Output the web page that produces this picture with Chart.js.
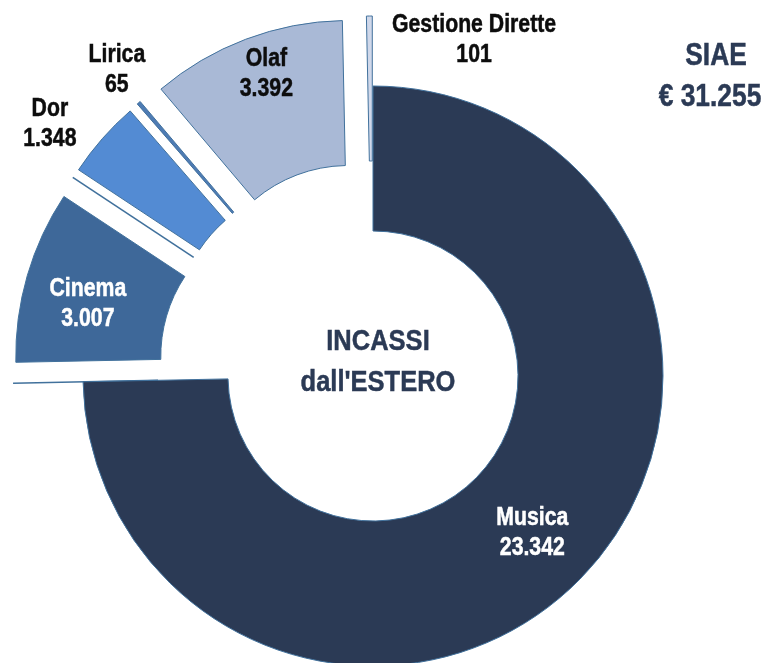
<!DOCTYPE html>
<html><head><meta charset="utf-8">
<script src="https://cdn.jsdelivr.net/npm/chart.js@4/dist/chart.umd.min.js"></script>
<style>html,body{margin:0;padding:0;background:#fff}#wrap{width:767px;height:663px}</style>
</head><body><div id="wrap"><canvas id="c" width="767" height="663"></canvas></div>
<script>
// ---- data ----
const categories = ['Musica', '', 'Cinema', '', 'Dor', 'Lirica', 'Olaf', 'Gestione Dirette'];
const values = [23342, 0, 3007, 0, 1348, 65, 3392, 101];
const centerLines = ['INCASSI', "dall'ESTERO"];
const titleLines = ['SIAE'];

// ---- styles ----
const fills = ['#2B3A55', '#2B3A55', '#3E6899', '#3E6899', '#538BD3', '#4E7BB4', '#A9B9D6', '#D0D8EA'];
const explode = [0, 70, 70, 70, 70, 70, 70, 70];
const labelShift = [[4, 3], null, [-9, 6], null, [-107, -64], [-69, -90], [-5, -35], [104, -51]];
const labelColor = ['#ffffff', null, '#ffffff', null, '#0d0d0d', '#0d0d0d', '#0d0d0d', '#0d0d0d'];
const navy = '#2B3A55';
const borderCol = '#41719C';

function fmt(v) { return String(v).replace(/\B(?=(\d{3})+(?!\d))/g, '.'); }
const total = values.reduce((a, b) => a + b, 0);

// font detection: prefer a narrow face, else compress horizontally
let FACE = "'Liberation Sans Narrow'", SX = 1.04;
(function () {
  const c = document.createElement('canvas').getContext('2d');
  c.font = "bold 40px 'Liberation Sans Narrow', monospace";
  const w1 = c.measureText('Gestione Dirette').width;
  c.font = "bold 40px 'Liberation Sans', monospace";
  const w2 = c.measureText('Gestione Dirette').width;
  if (!(w1 < w2 * 0.9)) { FACE = "'Liberation Sans'"; SX = 0.85; }
})();

function drawText(ctx, txt, x, mid, size, color) {
  ctx.save();
  ctx.font = 'bold ' + size + 'px ' + FACE + ', sans-serif';
  ctx.fillStyle = color;
  ctx.strokeStyle = color;
  ctx.lineWidth = 0.5;
  ctx.textAlign = 'center';
  ctx.textBaseline = 'alphabetic';
  ctx.translate(x, mid + 0.36 * size);
  ctx.scale(SX, 1);
  ctx.fillText(txt, 0, 0);
  ctx.strokeText(txt, 0, 0);
  ctx.restore();
}

const explodePlugin = {
  id: 'explode',
  afterUpdate(chart) {
    const meta = chart.getDatasetMeta(0);
    meta.data.forEach((arc, i) => {
      const d = explode[i];
      if (!d) return;
      const mid = (arc.startAngle + arc.endAngle) / 2;
      arc.x += Math.cos(mid) * d;
      arc.y += Math.sin(mid) * d;
    });
  },
  beforeDatasetsDraw(chart) {
    const ctx = chart.ctx;
    const meta = chart.getDatasetMeta(0);
    meta.data.forEach((arc) => {
      if (arc.circumference !== 0) return;
      const a = arc.startAngle;
      ctx.save();
      ctx.strokeStyle = borderCol;
      ctx.lineWidth = 1.6;
      ctx.beginPath();
      ctx.moveTo(arc.x + Math.cos(a) * arc.innerRadius, arc.y + Math.sin(a) * arc.innerRadius);
      ctx.lineTo(arc.x + Math.cos(a) * arc.outerRadius, arc.y + Math.sin(a) * arc.outerRadius);
      ctx.stroke();
      ctx.restore();
    });
  },
  afterDraw(chart) {
    const ctx = chart.ctx;
    const meta = chart.getDatasetMeta(0);
    meta.data.forEach((arc, i) => {
      if (!labelShift[i] || !categories[i]) return;
      const p = arc.tooltipPosition();
      const x = p.x + labelShift[i][0], y = p.y + labelShift[i][1];
      drawText(ctx, categories[i], x, y - 15, 25, labelColor[i]);
      drawText(ctx, fmt(values[i]), x, y + 15, 25, labelColor[i]);
    });
    const ca = chart.chartArea;
    const cx = (ca.left + ca.right) / 2, cy = (ca.top + ca.bottom) / 2;
    drawText(ctx, centerLines[0], cx + 5, cy - 37, 30, navy);
    drawText(ctx, centerLines[1], cx + 5, cy + 4, 30, navy);
    drawText(ctx, titleLines[0], ca.right - 30, 54, 31, navy);
    drawText(ctx, '€ ' + fmt(total), ca.right - 36, 95, 31, navy);
  }
};

new Chart(document.getElementById('c'), {
  type: 'doughnut',
  data: {
    labels: categories,
    datasets: [{
      data: values,
      backgroundColor: fills,
      borderColor: borderCol,
      borderWidth: 1,
      hoverOffset: 0,
      offset: 0
    }]
  },
  options: {
    responsive: false,
    animation: false,
    events: [],
    radius: 290,
    cutout: '50%',
    layout: { padding: { left: 0, right: 21, top: 89, bottom: 0 } },
    plugins: { legend: { display: false }, tooltip: { enabled: false } }
  },
  plugins: [explodePlugin]
});
</script>
</body></html>
